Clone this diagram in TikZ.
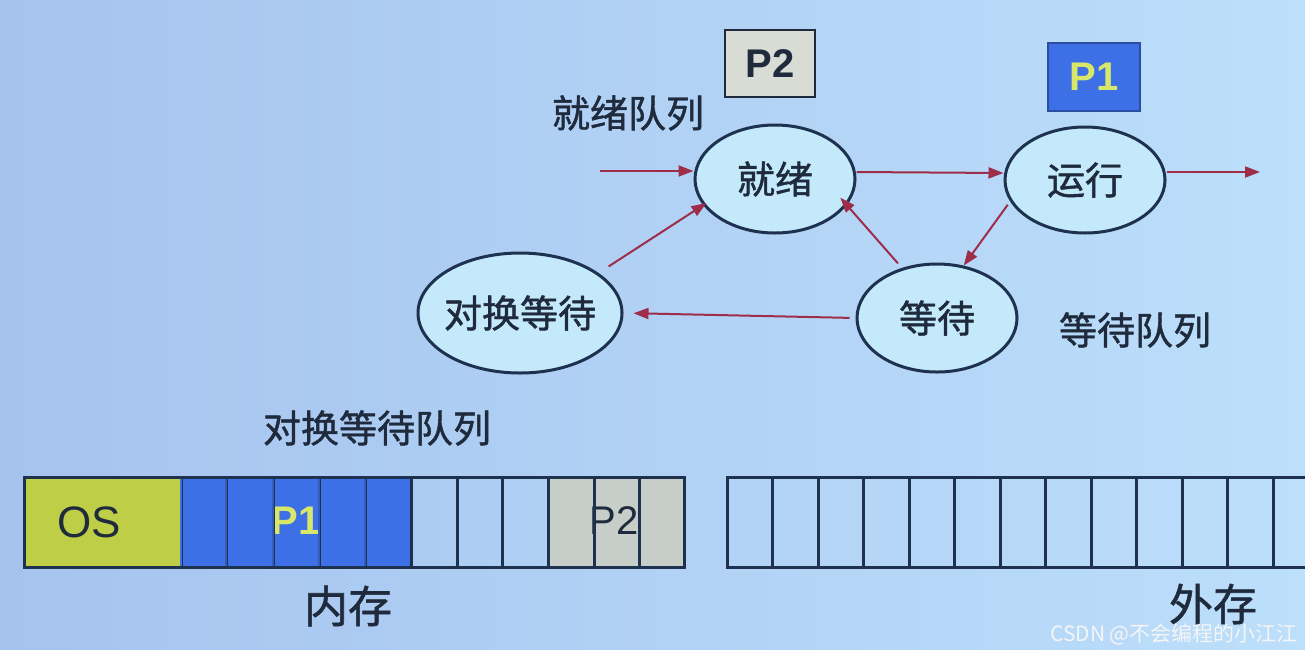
\documentclass[tikz,border=0pt]{standalone}
\usepackage{fontspec}
\setmainfont{Liberation Sans}
\newfontfamily\cjk[FakeBold=1.2]{Noto Sans CJK SC}
\newfontfamily\cjkw{Noto Sans CJK SC}
\usetikzlibrary{shapes.geometric,arrows.meta}
\definecolor{bgL}{HTML}{A6C3EE}
\definecolor{bgR}{HTML}{BCDFFB}
\definecolor{navy}{HTML}{1E3250}
\definecolor{txt}{HTML}{1F2B3C}
\definecolor{ellfill}{HTML}{C3E9FB}
\definecolor{arrowred}{HTML}{9E2D4A}
\definecolor{osgreen}{HTML}{BFCE47}
\definecolor{pblue}{HTML}{3D6FE6}
\definecolor{pgray}{HTML}{C7CEC9}
\definecolor{pyellow}{HTML}{D8E66A}
\definecolor{boxgray}{HTML}{D8DCD4}
\tikzset{
  state/.style={ellipse, draw=navy, line width=1.5pt, fill=ellfill, inner sep=0pt,
    text=txt, font=\cjk\fontsize{19}{22}\selectfont},
  lbl/.style={text=txt, inner sep=0pt, font=\cjk\fontsize{19}{22}\selectfont},
  big/.style={text=txt, inner sep=0pt, font=\cjk\fontsize{22}{26}\selectfont},
  arr/.style={draw=arrowred, line width=1pt, -{Triangle[length=7.5pt,width=5.5pt]}},
  cell/.style={draw=navy, line width=1.5pt},
  ptxt/.style={inner sep=0pt, font=\bfseries\fontsize{20}{24}\selectfont},
}
\begin{document}
\begin{tikzpicture}[x=0.5pt,y=-0.5pt]
\useasboundingbox (0,0) rectangle (1305,649);
\clip (0,0) rectangle (1305,649);
\shade[left color=bgL,right color=bgR] (0,0) rectangle (1305,649);

% process boxes
\node[draw=txt, line width=1.2pt, fill=boxgray, minimum width=45pt, minimum height=33.5pt,
  ptxt, text=txt] (p2box) at (770,63.5) {P2};
\node[draw=pblue!70!black, line width=0.6pt, fill=pblue, minimum width=46pt, minimum height=34pt,
  ptxt, text=pyellow] (p1box) at (1094,77) {P1};

% states
\node[state, minimum width=80pt, minimum height=54pt] (ready) at (775,179) {\makebox[0pt]{就绪}};
\node[state, minimum width=80pt, minimum height=53pt] (run) at (1085,180) {\makebox[0pt]{运行}};
\node[state, minimum width=80pt, minimum height=54pt] (wait) at (937,318) {\makebox[0pt]{等待}};
\node[state, minimum width=102pt, minimum height=60pt] (swap) at (520,313) {\makebox[0pt]{对换等待}};

\node[lbl] (readyq) at (628,113) {就绪队列};
\node[lbl] (waitq) at (1135,330) {等待队列};
\node[lbl] (swapq) at (377,428) {对换等待队列};

% connectors
\coordinate (in) at (600,171);
\coordinate (out) at (1260,172);
\draw[arr] (in) -- (in -| ready.west);
\draw[arr] ([yshift=3.5pt]ready.east) -- ([yshift=3.5pt]run.west);
\draw[arr] ([yshift=4pt]run.east) -- (out);
\draw[arr, shorten <=2pt] (run.196) -- (wait.63);
\draw[arr, shorten <=3pt, shorten >=-5pt] (wait.125) -- (ready.340);
\draw[arr, shorten <=6pt, shorten >=-2pt] (swap.27) -- (ready.200);
\draw[arr, shorten <=3pt, shorten >=5pt] (wait.west) -- (swap.east);

% memory (inner)
\fill[osgreen] (24,477) rectangle (181,567);
\fill[pblue] (181,477) rectangle (411,567);
\fill[pgray] (548,477) rectangle (684,567);
\node[ptxt, text=txt, font=\fontsize{22}{26}\selectfont] (os) at (89,522) {OS};
\node[ptxt, text=pyellow] (p1m) at (296,521) {P1};
\node[ptxt, text=txt, font=\fontsize{20}{24}\selectfont] (p2m) at (614,521) {P2};
\foreach \a/\b in {24/181,181/226,226/273,273/319,319/365,365/411,411/457,457/502,502/548,548/594,594/639,639/684}
  \draw[cell] (\a,477) rectangle (\b,567);
\draw[line width=0.6pt, draw=pblue] (181,478.5) -- (181,565.5);
\foreach \a in {226,273,319,365}
  \draw[line width=1.2pt, draw=pblue!70!navy] (\a,478.5) -- (\a,565.5);
\draw[cell] (181,477) -- (411,477) (181,567) -- (411,567);

% memory (outer)
\foreach \i in {0,...,13}
  \draw[cell] ({727+45.5*\i},477) rectangle ({727+45.5*(\i+1)},567);

\node[big] (mem) at (348,606) {内存};
\node[big] (disk) at (1213,604) {外存};
\node[inner sep=0pt, text=white!92!gray, font=\cjkw\fontsize{10.5}{12}\selectfont] (wm) at (1174,634) {CSDN @不会编程的小江江};
\end{tikzpicture}
\end{document}
